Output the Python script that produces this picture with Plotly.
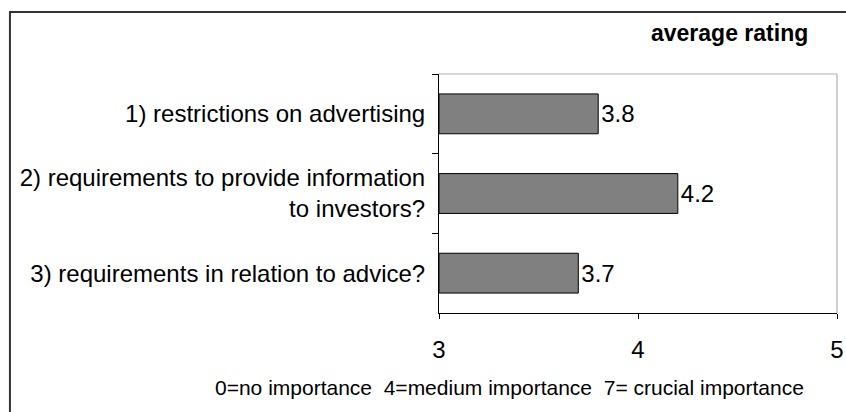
import plotly.graph_objects as go

categories = [
    "1) restrictions on advertising",
    "2) requirements to provide information<br>to investors?",
    "3) requirements in relation to advice?",
]
ratings = [3.8, 4.2, 3.7]
rating_labels = ["3.8", "4.2", "3.7"]
x_ticks = [3, 4, 5]
axis_start = 3

FONT = "Liberation Sans, Arial, sans-serif"

fig = go.Figure()
fig.add_trace(
    go.Bar(
        x=[r - axis_start for r in ratings],
        y=categories,
        base=axis_start,
        orientation="h",
        marker=dict(color="#808080", line=dict(color="#000000", width=1)),
        text=rating_labels,
        textposition="outside",
        textfont=dict(family=FONT, size=24, color="#000000"),
        cliponaxis=False,
        hoverinfo="skip",
    )
)

fig.update_layout(
    width=846,
    height=412,
    margin=dict(l=439, r=9, t=74, b=99),
    paper_bgcolor="white",
    plot_bgcolor="white",
    showlegend=False,
    bargap=0.5,
    font=dict(family=FONT, size=24, color="#000000"),
    xaxis=dict(
        range=[3, 5],
        tickvals=x_ticks,
        ticktext=[str(t) for t in x_ticks],
        automargin=False,
        showgrid=False,
        zeroline=False,
        showline=True,
        linecolor="#000000",
        linewidth=1,
        ticks="outside",
        ticklen=5,
        tickcolor="#000000",
        ticklabelstandoff=10,
        tickfont=dict(size=24),
    ),
    yaxis=dict(
        autorange="reversed",
        automargin=False,
        showgrid=False,
        zeroline=False,
        showline=True,
        linecolor="#000000",
        linewidth=1,
        ticks="outside",
        ticklen=6,
        tickcolor="#000000",
        tickson="boundaries",
        ticklabelstandoff=8,
        tickfont=dict(size=24),
    ),
    shapes=[
        # light grey plot border (top and right)
        dict(type="line", xref="paper", yref="paper", x0=0, x1=1, y0=1, y1=1,
             line=dict(color="#b0b0b0", width=1)),
        dict(type="line", xref="paper", yref="paper", x0=1, x1=1, y0=0, y1=1,
             line=dict(color="#a0a0a0", width=1)),
        # outer chart frame (cropped at right and bottom)
        dict(type="path", xref="paper", yref="paper",
             path="M -1.078,-0.45 L -1.078,1.2594 L 1.05,1.2594",
             line=dict(color="#333333", width=2)),
    ],
    annotations=[
        dict(text="<b>average rating</b>", xref="paper", yref="paper",
             x=0.932, y=1.17, xanchor="right", yanchor="middle",
             showarrow=False, font=dict(size=23)),
        dict(text="0=no importance  4=medium importance  7= crucial importance",
             xref="paper", yref="paper", x=0.178, y=-0.31,
             xanchor="center", yanchor="middle", showarrow=False,
             font=dict(size=21)),
    ],
)

fig.write_html(
    "out.html",
    config={"displayModeBar": False},
    post_script="document.body.style.margin='0';",
)
